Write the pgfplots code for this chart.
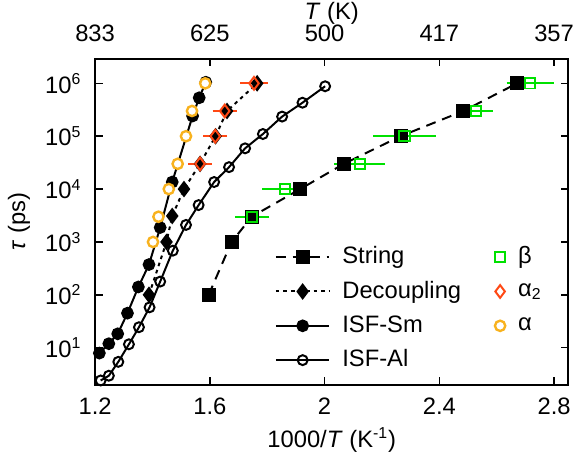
\documentclass[12pt,border=0pt]{standalone}
\usepackage{fontspec}
\setmainfont{Liberation Sans}
\usepackage{pgfplots}
\pgfplotsset{compat=1.18}
\definecolor{bgreen}{RGB}{0,225,0}
\definecolor{bred}{RGB}{255,72,20}
\definecolor{bgold}{RGB}{248,178,30}
\pgfplotsset{
  lineleg/.style={legend image code/.code={\draw[mark repeat=2,mark phase=2,##1] plot coordinates {(0bp,0bp) (13.5bp,0bp) (27bp,0bp)}; \path (31bp,0bp);}},
  markleg/.style={legend image code/.code={\draw[##1] plot coordinates {(0bp,0bp)}; \path (6.5bp,0bp);}},
}
\begin{document}
\begin{tikzpicture}
\begin{axis}[
  width=238.3bp, height=164bp, scale only axis,
  xmin=1.2, xmax=2.85,
  ymode=log, ymin=2, ymax=2.9e6,
  axis line style={line width=1bp},
  major tick length=3.8bp,
  tick style={line width=0.8bp, black},
  tick align=inside,
  yminorticks=false, xminorticks=false,
  xtick={1.2,1.6,2,2.4,2.8},
  xtick pos=both, xticklabel pos=bottom,
  ytick pos=both, yticklabel pos=left,
  xticklabels={1.2,1.6,2,2.4,2.8},
  xticklabel style={yshift=-2.4bp},
  ytick={10,100,1000,10000,100000,1000000},
  yticklabels={10\textsuperscript{1},10\textsuperscript{2},10\textsuperscript{3},10\textsuperscript{4},10\textsuperscript{5},10\textsuperscript{6}},
  yticklabel style={xshift=-2.7bp},
  xlabel={1000/\textit{T} (K\textsuperscript{-1})},
  ylabel={\textit{τ} (ps)},
  every axis x label/.style={at={(rel axis cs:0.5,0)}, yshift=-27.9bp, anchor=center},
  every axis y label/.style={at={(rel axis cs:0,0.5)}, xshift=-38.3bp, rotate=90, anchor=center},
  legend columns=2,
  legend cell align=left,
  legend style={draw=none, fill=none, at={(0.379,0.03)}, anchor=south west, inner sep=0pt, row sep=3bp},
]
% ISF-Al
\addplot[black, line width=1bp, mark=o, mark size=2.5bp, forget plot] coordinates {
(1.2195,2.4) (1.248,2.95) (1.281,5.4) (1.318,11.6) (1.353,24.4) (1.390,58) (1.427,178) (1.471,684) (1.517,2100) (1.561,4980) (1.615,13600) (1.667,26000) (1.723,59000) (1.785,110000) (1.852,235000) (1.923,430000) (2.002,880000)
};
% ISF-Sm
\addplot[black, line width=1bp, mark=*, mark size=2.7bp, forget plot] coordinates {
(1.215,7.9) (1.248,11.9) (1.279,18.3) (1.313,45) (1.351,141) (1.388,374) (1.427,1875) (1.469,13600) (1.540,241000) (1.563,533000) (1.586,1050000)
};
% Decoupling
\addplot[black, line width=1bp, dash pattern=on 1.8bp off 2bp, mark=diamond*, mark size=3.4bp, mark options={solid}, forget plot] coordinates {
(1.388,100) (1.449,1000) (1.469,3100) (1.510,10000) (1.566,30000) (1.620,100000) (1.660,300000) (1.765,1000000)
};
% String
\addplot[black, line width=1bp, dash pattern=on 5bp off 3.5bp, mark=square*, mark size=3bp, mark options={solid}, forget plot] coordinates {
(1.596,100) (1.676,1000) (1.746,3000) (1.915,10000) (2.067,30000) (2.265,100000) (2.484,300000) (2.671,1000000)
};
% beta
\addplot[bgreen, line width=1bp, only marks, mark=square, mark size=2.6bp, forget plot,
  error bars/.cd, x dir=both, x explicit, error bar style={line width=1bp}, error mark options={line width=1bp, mark size=1.8bp}] coordinates {
(1.748,3000) +- (0.047,0)
(1.861,10000) +- (0.065,0)
(2.123,30000) +- (0.076,0)
(2.279,100000) +- (0.097,0)
(2.527,300000) +- (0.046,0)
(2.717,1000000) +- (0.070,0)
};
% alpha2
\addplot[bred, line width=1bp, only marks, mark=diamond, mark size=3.2bp, forget plot,
  error bars/.cd, x dir=both, x explicit, error bar style={line width=1bp}, error mark options={line width=1bp, mark size=1.8bp}] coordinates {
(1.754,1000000) +- (0.035,0)
(1.652,300000) +- (0.03,0)
(1.619,100000) +- (0.029,0)
(1.566,30000) +- (0.029,0)
};
% alpha
\addplot[bgold, line width=1.2bp, only marks, mark=*, mark size=2.6bp, mark options={fill=white, draw=bgold}, forget plot] coordinates {
(1.584,1000000) (1.538,300000) (1.517,100000) (1.488,30000) (1.457,10000) (1.421,3000) (1.402,1000)
};
% legend
\addlegendimage{lineleg, black, line width=1bp, dash pattern=on 5bp off 3.5bp, mark=square*, mark size=3bp, mark options={solid}}
\addlegendentry{String}
\addlegendimage{markleg, bgreen, line width=1bp, mark=square, mark size=2.6bp}
\addlegendentry{β}
\addlegendimage{lineleg, black, line width=1bp, dash pattern=on 1.8bp off 2bp, mark=diamond*, mark size=3.4bp, mark options={solid}}
\addlegendentry{Decoupling\rule{15bp}{0pt}}
\addlegendimage{markleg, bred, line width=1bp, mark=diamond, mark size=3.2bp}
\addlegendentry{α\textsubscript{2}}
\addlegendimage{lineleg, black, line width=1bp, mark=*, mark size=2.7bp}
\addlegendentry{ISF-Sm}
\addlegendimage{markleg, bgold, line width=1.2bp, mark=o, mark size=2.6bp}
\addlegendentry{α}
\addlegendimage{lineleg, black, line width=1bp, mark=o, mark size=2.5bp}
\addlegendentry{ISF-Al}
\end{axis}
\begin{axis}[
  width=238.3bp, height=164bp, scale only axis,
  xmin=1.2, xmax=2.85, ymin=0, ymax=1,
  axis x line*=top, axis y line=none,
  axis line style={line width=1bp},
  major tick length=3.8bp,
  tick style={line width=0.8bp, black},
  tick align=inside,
  xminorticks=false,
  xtick={1.2,1.6,2,2.4,2.8},
  xticklabels={833,625,500,417,357},
  xticklabel style={inner sep=0pt, yshift=8.3bp},
  xlabel={\textit{T} (K)},
  every axis x label/.style={at={(rel axis cs:0.5,1)}, yshift=22.9bp, anchor=center, inner sep=0pt},
]
\end{axis}
\path[use as bounding box] ([xshift=-45.85bp,yshift=-34.35bp]current axis.south west) rectangle ([xshift=8.85bp,yshift=29.65bp]current axis.north east);
\end{tikzpicture}
\end{document}
